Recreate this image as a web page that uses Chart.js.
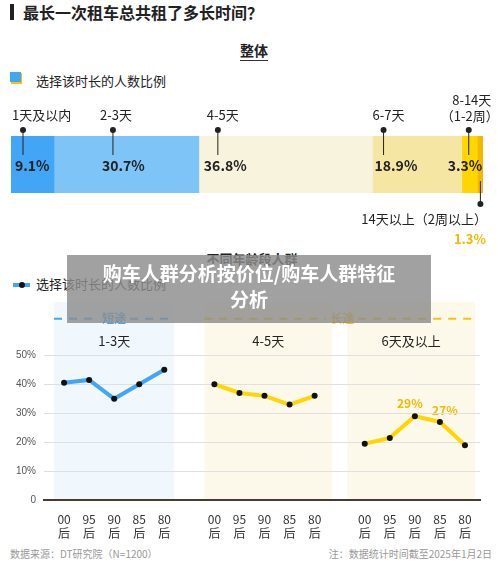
<!DOCTYPE html>
<html><head><meta charset="utf-8">
<script src="https://cdn.jsdelivr.net/npm/chart.js@4"></script>
<style>
body{margin:0;width:500px;height:573px;background:#fff;font-family:"Noto Sans CJK SC","Noto Sans",sans-serif;position:relative;overflow:hidden;color:#222}
.a{position:absolute;white-space:nowrap}
canvas{position:absolute}
</style></head><body>
<div class="a" style="left:10px;top:4px;width:4px;height:16px;background:#222"></div>
<div class="a" style="left:23px;top:0px;font-size:16px;font-weight:bold">最长一次租车总共租了多长时间？</div>
<div class="a" style="left:240px;top:40px;font-size:14px;font-weight:bold;border-bottom:1px solid #333;line-height:20px">整体</div>
<div class="a" style="left:11px;top:73px;width:11px;height:11px;background:#ffc107;"></div>
<div class="a" style="left:10px;top:72px;width:11px;height:10px;background:#42a5f5;"></div>
<div class="a" style="left:36px;top:71px;font-size:13px">选择该时长的人数比例</div>
<div class="a" style="left:11px;top:249px;width:482px;text-align:center;font-size:13px;font-weight:bold">不同年龄段人群</div>
<div class="a" style="left:13px;top:283px;width:17px;height:4px;background:#42a5f5"></div>
<div class="a" style="left:19px;top:282px;width:6px;height:6px;border-radius:3px;background:#111"></div>
<div class="a" style="left:36px;top:274px;font-size:13px">选择该时长的人数比例</div>
<div class="a" style="left:10px;top:546px;font-size:10px;color:#999">数据来源：DT研究院（N=1200）</div>
<div class="a" style="right:8px;top:546px;font-size:10px;color:#999">注：数据统计时间截至2025年1月2日</div>
<canvas id="bar" style="left:0;top:90px" width="500" height="160"></canvas>
<canvas id="line" style="left:0;top:292px" width="500" height="253"></canvas>
<div class="a" style="left:67px;top:255px;width:364px;height:63px;background:rgba(140,140,140,0.82);color:#fff;font-size:19px;font-weight:bold;text-align:center;line-height:26px;padding-top:5px;white-space:normal">购车人群分析按价位/购车人群特征<br>分析</div>
<script>
// overall distribution
const durations = ['1天及以内', '2-3天', '4-5天', '6-7天', '8-14天\n（1-2周）', '14天以上（2周以上）'];
const shares = [9.1, 30.7, 36.8, 18.9, 3.3, 1.3];
const segColors = ['#42a5f5', '#7ec4f7', '#f8f3dc', '#f5e6a3', '#ffd600', '#f5b800'];
const pinOffset = [12, 59, 19, 11, 7];
const textOffset = [4, 48, 5, 2, -14];

// age groups
const ages = [['00','后'], ['95','后'], ['90','后'], ['85','后'], ['80','后']];
const short13 = [40.5, 41.5, 35, 40, 45];
const mid45 = [40, 37, 36, 33, 36];
const long6 = [19.5, 21.5, 29, 27, 19];
const panels = ['1-3天', '4-5天', '6天及以上'];
const yTicks = [0, 10, 20, 30, 40, 50];

const barPins = {
  id: 'barPins',
  afterDatasetsDraw(c) {
    const ctx = c.ctx;
    ctx.save();
    const top = c.chartArea.top, bot = c.chartArea.bottom;
    for (let i = 0; i < shares.length; i++) {
      const el = c.getDatasetMeta(i).data[0];
      const x0 = el.base, x1 = el.x;
      ctx.fillStyle = '#222';
      ctx.strokeStyle = '#222';
      ctx.lineWidth = 1;
      if (i < 5) {
        const px = x0 + pinOffset[i];
        ctx.beginPath(); ctx.moveTo(px, top - 6); ctx.lineTo(px, top + 19); ctx.stroke();
        ctx.beginPath(); ctx.arc(px, top - 6, 3, 0, Math.PI * 2); ctx.fill();
        ctx.font = 'bold 14px "Noto Sans CJK SC"';
        ctx.textBaseline = 'middle';
        ctx.textAlign = 'left';
        ctx.fillText(shares[i] + '%', x0 + textOffset[i], (top + bot) / 2 + 1);
        ctx.font = '13px "Noto Sans CJK SC"';
        const lines = durations[i].split('\n');
        if (lines.length === 1) {
          ctx.textAlign = 'left';
          ctx.fillText(lines[0], i === 1 ? px - 13 : px - 11, top - 21);
        } else {
          ctx.textAlign = 'center';
          ctx.fillText(lines[0], px + 3, top - 36);
          ctx.fillText(lines[1], px + 1, top - 20);
        }
      } else {
        const px = (x0 + x1) / 2;
        ctx.beginPath(); ctx.moveTo(px, bot - 12); ctx.lineTo(px, bot + 11); ctx.stroke();
        ctx.beginPath(); ctx.arc(px, bot + 11, 3, 0, Math.PI * 2); ctx.fill();
        ctx.font = '13px "Noto Sans CJK SC"';
        ctx.textAlign = 'right';
        ctx.textBaseline = 'middle';
        ctx.fillText(durations[i], 487, bot + 26);
        ctx.fillStyle = '#f5b800';
        ctx.font = 'bold 13px "Noto Sans CJK SC"';
        ctx.fillText(shares[i] + '%', 486, bot + 46);
      }
    }
    ctx.restore();
  }
};

new Chart(document.getElementById('bar'), {
  type: 'bar',
  data: {
    labels: ['整体'],
    datasets: shares.map((v, i) => ({ data: [v], backgroundColor: segColors[i], barPercentage: 1, categoryPercentage: 1 }))
  },
  options: {
    indexAxis: 'y', responsive: false, animation: false,
    layout: { padding: { left: 11, right: 17, top: 46, bottom: 57 } },
    plugins: { legend: { display: false }, tooltip: { enabled: false } },
    scales: {
      x: { stacked: true, min: 0, max: 100, display: false },
      y: { stacked: true, display: false }
    }
  },
  plugins: [barPins]
});

// x positions: 17 slots, gaps at 5 and 11
const pts = (arr, start) => arr.map((v, i) => ({ x: start + i, y: v }));
const slotLabel = {};
ages.forEach((a, i) => { slotLabel[i] = a; slotLabel[i + 6] = a; slotLabel[i + 12] = a; });

const bands = {
  id: 'bands',
  beforeDraw(c) {
    const ctx = c.ctx, xs = c.scales.x, ys = c.scales.y;
    const top = c.chartArea.top - 4, bot = ys.getPixelForValue(0);
    ctx.save();
    const spans = [[-0.4, 4.4, '#f0f8fe'], [5.6, 10.7, '#fdf9ea'], [11.3, 16.4, '#fdf9ea']];
    spans.forEach((s, i) => {
      const a = xs.getPixelForValue(s[0]), b = xs.getPixelForValue(s[1]);
      ctx.fillStyle = s[2];
      ctx.fillRect(a, top, b - a, bot - top);
      ctx.fillStyle = '#222';
      ctx.font = '13px "Noto Sans CJK SC"';
      ctx.textAlign = 'center'; ctx.textBaseline = 'middle';
      ctx.fillText(panels[i], (a + b) / 2, ys.getPixelForValue(55));
    });
    const dy = ys.getPixelForValue(62.6);
    ctx.lineWidth = 2; ctx.setLineDash([8, 7]);
    const dash = (a, b, col, txt, tx) => {
      const pa = xs.getPixelForValue(a), pb = xs.getPixelForValue(b), pt = xs.getPixelForValue(tx);
      ctx.strokeStyle = col;
      ctx.beginPath(); ctx.moveTo(pa, dy); ctx.lineTo(pt - 16, dy); ctx.moveTo(pt + 16, dy); ctx.lineTo(pb, dy); ctx.stroke();
      ctx.fillStyle = col; ctx.font = 'bold 12px "Noto Sans CJK SC"';
      ctx.fillText(txt, pt, dy);
    };
    dash(-0.4, 4.4, '#42a5f5', '短途', 2);
    dash(5.6, 16.4, '#ffc107', '长途', 11.1);
    ctx.setLineDash([]);
    ctx.fillStyle = '#f5b800'; ctx.font = 'bold 12px "Noto Sans CJK SC"';
    ctx.fillText('29%', xs.getPixelForValue(13.8), ys.getPixelForValue(33.3));
    ctx.fillText('27%', xs.getPixelForValue(15.2), ys.getPixelForValue(30.8));
    ctx.restore();
  }
};

const ds = (data, col) => ({ data, borderColor: col, borderWidth: 4, pointRadius: 3, pointBackgroundColor: '#111', pointBorderWidth: 0, tension: 0 });

new Chart(document.getElementById('line'), {
  type: 'line',
  data: { datasets: [ds(pts(short13, 0), '#42a5f5'), ds(pts(mid45, 6), '#ffd600'), ds(pts(long6, 12), '#ffd600')] },
  options: {
    responsive: false, animation: false,
    layout: { padding: { left: 8, right: 20, top: 10, bottom: 0 } },
    plugins: { legend: { display: false }, tooltip: { enabled: false } },
    scales: {
      x: {
        type: 'linear', min: -0.8, max: 16.6,
        afterBuildTicks: s => { s.ticks = Array.from({ length: 17 }, (_, i) => ({ value: i })); },
        ticks: { autoSkip: false, maxRotation: 0, color: '#333', font: { size: 12, family: 'Noto Sans CJK SC' }, padding: 4, callback: v => slotLabel[v] || '' },
        grid: { display: false }, border: { color: '#4a3a30', width: 2 }
      },
      y: {
        min: 0, max: 67,
        afterBuildTicks: s => { s.ticks = yTicks.map(v => ({ value: v })); },
        ticks: { color: '#555', font: { size: 10 }, padding: 8, callback: v => v === 0 ? '0' : v + '%' },
        grid: { color: '#e0e0e0', drawTicks: false }, border: { display: false }
      }
    }
  },
  plugins: [bands]
});
</script>
</body></html>
